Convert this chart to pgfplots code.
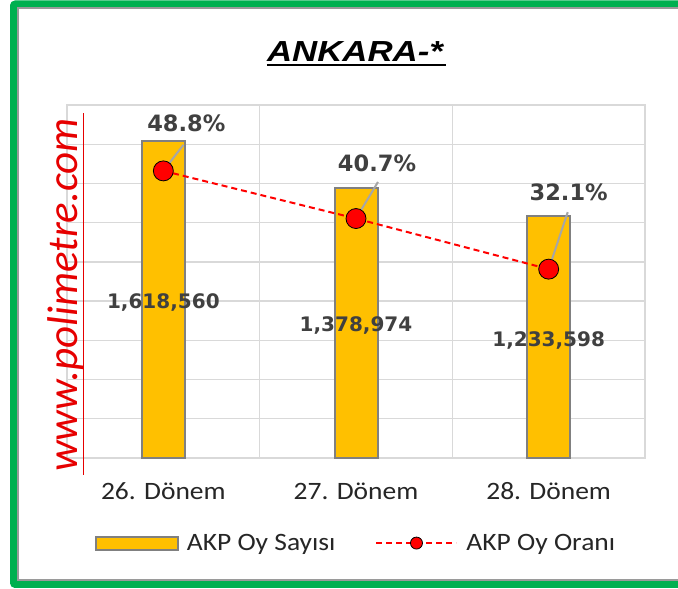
\documentclass[border=0pt]{standalone}
\usepackage{fontspec}
\setmainfont{Carlito}
\usepackage{pgfplots}
\pgfplotsset{compat=1.18}
\newfontfamily\titlefont[FakeStretch=1.2]{Liberation Sans}
\newfontfamily\labfont{DejaVu Sans}
\newfontfamily\tickfont[FakeStretch=1.1]{Carlito}
\newfontfamily\wmfont{Carlito}
\newcommand\tickfs{\tickfont\fontsize{25}{30}\selectfont}
\newcommand\cntfs{\labfont\bfseries\fontsize{20}{24}\selectfont}
\newcommand\pctfs{\labfont\bfseries\fontsize{22.5}{27}\selectfont}
\definecolor{barfill}{HTML}{FFC000}
\definecolor{baredge}{HTML}{808080}
\definecolor{gridgray}{HTML}{D9D9D9}
\definecolor{labgray}{HTML}{404040}
\definecolor{ticktext}{HTML}{262626}
\definecolor{leadgray}{HTML}{A6A6A6}
\definecolor{framegreen}{HTML}{00B050}
\definecolor{framegray}{HTML}{9A9A9A}
\definecolor{wmred}{HTML}{E60000}
\pgfplotsset{
  barleg/.style={legend image code/.code={\draw[fill=barfill, draw=baredge, line width=2pt] (0pt,-6.5pt) rectangle (82pt,6.5pt); \path[draw=none, fill=none] (82pt,0pt) -- (89pt,0pt);}},
  lineleg/.style={legend image code/.code={\draw[mark repeat=2, mark phase=2, ##1, mark size=6pt] plot coordinates {(0pt,0pt) (40pt,0pt) (80pt,0pt)}; \path[draw=none, fill=none] (80pt,0pt) -- (88pt,0pt);}},
}
\begin{document}
\begin{tikzpicture}
\useasboundingbox (0pt,0pt) rectangle (678pt,589pt);
\fill[white] (0pt,0pt) rectangle (678pt,589pt);
\draw[framegreen, line width=7pt, rounded corners=2pt] (13.5pt,4.5pt) rectangle (700pt,585pt);
\draw[framegray, line width=2pt] (18pt,9pt) rectangle (700pt,581pt);
\node[font=\titlefont\bfseries\itshape\fontsize{29}{34}\selectfont, anchor=base, inner sep=0pt] (T) at (355pt,527pt) {ANKARA-*};
\draw[line width=2.5pt] ([yshift=-3pt]T.base west) -- ([yshift=-3pt,xshift=3pt]T.base east);

\begin{axis}[at={(67pt,131pt)}, anchor=south west, scale only axis, width=578pt, height=353pt,
  xmin=-0.5, xmax=2.5, ymin=0, ymax=1800000,
  xtick={0,1,2}, xticklabels={26. Dönem,27. Dönem,28. Dönem},
  minor xtick={0.5,1.5}, xminorgrids=true,
  ytick={0,200000,...,1800000}, yticklabels={}, ymajorgrids=true, scaled y ticks=false,
  major tick length=0pt, minor tick length=0pt,
  grid style={gridgray, line width=1.3pt}, minor grid style={gridgray, line width=1.3pt},
  axis line style={gridgray, line width=1.3pt},
  xticklabel style={font=\tickfs, text=ticktext, anchor=base, yshift=-42pt},
  clip=false]
\addplot[ybar, bar width=43pt, fill=barfill, draw=baredge, line width=2pt] table {
x y
0 1618560
1 1378974
2 1233598
};
\addplot[draw=none, mark=none, nodes near coords, point meta=explicit symbolic,
  every node near coord/.append style={font=\cntfs, text=labgray, anchor=base, yshift=-9pt}] table[meta=lab] {
x y lab
0 809280 1,618,560
1 689487 1,378,974
2 616799 1,233,598
};
\end{axis}

\begin{axis}[at={(67pt,131pt)}, anchor=south west, scale only axis, width=578pt, height=353pt,
  xmin=-0.5, xmax=2.5, ymin=0, ymax=60, hide axis, clip=false,
  legend style={at={(axis description cs:0.5,-0.241)}, anchor=center, draw=none, fill=none,
    legend columns=2, font=\tickfs, nodes={text=ticktext},
    /tikz/every even column/.append style={column sep=38pt}},
  legend cell align=left]
\addlegendimage{barleg}
\addlegendentry{AKP Oy Sayısı}
\addplot[red, line width=2pt, dash pattern=on 6pt off 4pt, mark=*, mark size=10pt,
  mark options={solid, fill=red, draw=black, line width=0.8pt}, lineleg,
  nodes near coords, point meta=explicit symbolic,
  visualization depends on={\thisrow{dx} \as \myDx},
  visualization depends on={\thisrow{dy} \as \myDy},
  every node near coord/.append style={font=\pctfs, text=labgray, anchor=center, xshift=\myDx pt, yshift=\myDy pt}] table[meta=lab] {
x y dx dy lab
0 48.8 23 48 48.8\%
1 40.7 21 55.6 40.7\%
2 32.1 20 77 32.1\%
};
\addlegendentry{AKP Oy Oranı}
\addplot[leadgray, line width=2pt, quiver={u=\thisrow{u}, v=\thisrow{v}}, forget plot] table {
x y u v
0 48.8 0.104 4.42
1 40.7 0.114 6.22
2 32.1 0.099 9.69
};
\end{axis}

\node[rotate=90, anchor=base, text=wmred, font=\wmfont\itshape\fontsize{43}{50}\selectfont, inner sep=0pt] at (77pt,294pt) {www.polimetre.com};
\draw[wmred, line width=1pt] (83pt,114pt) -- (83pt,476pt);
\end{tikzpicture}
\end{document}
